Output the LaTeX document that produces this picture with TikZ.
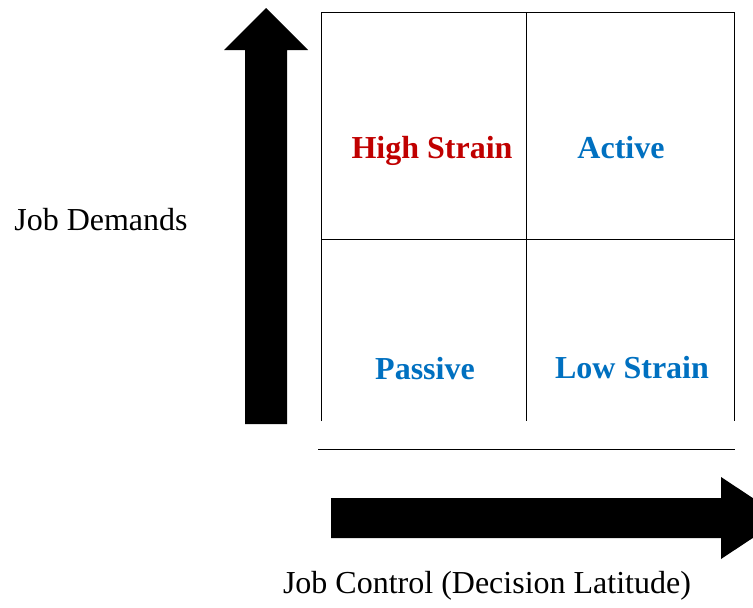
\documentclass[tikz,border=0pt]{standalone}
\usepackage{fontspec}
\setmainfont{Liberation Serif}
\definecolor{strainred}{RGB}{192,0,0}
\definecolor{quadblue}{RGB}{0,112,192}

\begin{document}
\begin{tikzpicture}[%
      x=1pt, y=-1pt,
      axislabel/.style={font=\fontsize{32}{38}\selectfont},
      quadlabel/.style={font=\fontsize{32}{38}\selectfont\bfseries},
      ]
      \useasboundingbox (0,0) rectangle (753,608);
      \clip (0,0) rectangle (753,608);
      % quadrant grid
      \draw [line width=1pt] (321,421) -- (321,12) -- (734,12) -- (734,421);
      \draw [line width=1pt] (526,12) -- (526,421);
      \draw [line width=1pt] (321,239) -- (734,239);
      \draw [line width=1pt] (318,449) -- (735,449);

      % block arrows
      \fill [color=black] (245,424) -- (245,50) -- (224,50) -- (266,8) -- (308,50) -- (287,50) -- (287,424) -- cycle;
      \fill [color=black] (331,498) -- (721,498) -- (721,477) -- (783,518) -- (721,559) -- (721,538) -- (331,538) -- cycle;

      \node [axislabel] (demands) at (101,220) {Job Demands};
      \node [axislabel] (control) at (487,586) {Job Control (Decision Latitude)};

      \node [quadlabel, color=strainred] (highstrain) at (432,151) {High Strain};
      \node [quadlabel, color=quadblue] (active) at (621,148) {Active};
      \node [quadlabel, color=quadblue] (passive) at (425,369) {Passive};
      \node [quadlabel, color=quadblue] (lowstrain) at (632,368) {Low Strain};
      \end{tikzpicture}
\end{document}
